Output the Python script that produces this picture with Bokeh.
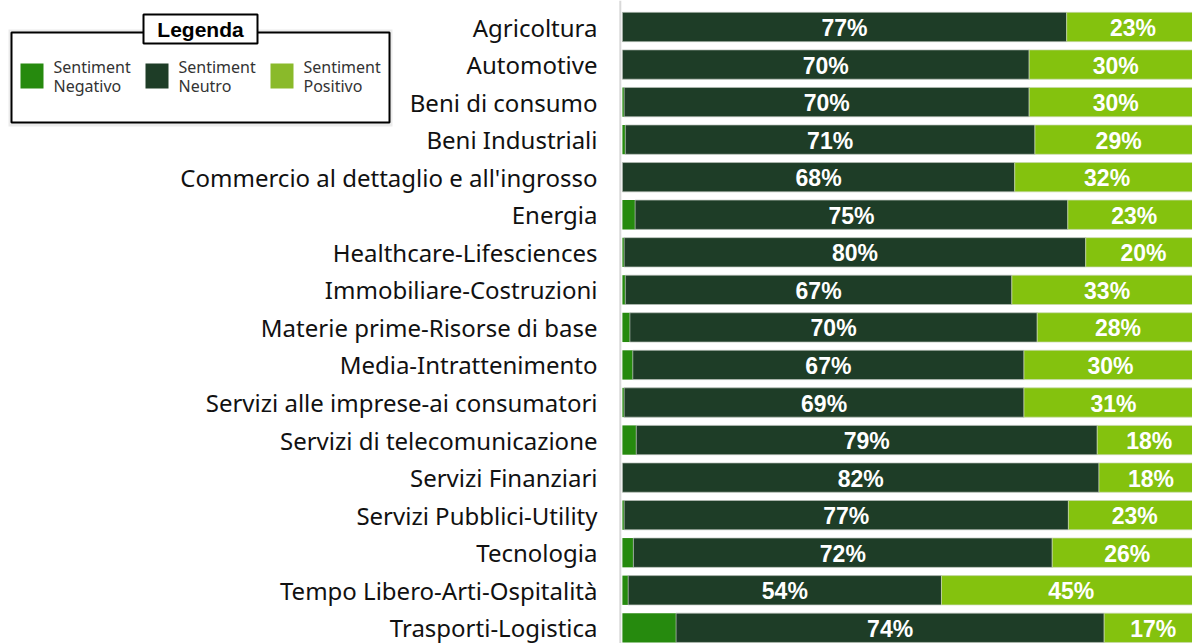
import numpy as np
from bokeh.plotting import figure
from bokeh.models import ColumnDataSource, Range1d, BoxAnnotation, Label, Span
from bokeh.core.properties import value
from bokeh.embed import file_html
from bokeh.resources import INLINE

# ---------------- data ----------------
categories = [
    "Agricoltura", "Automotive", "Beni di consumo", "Beni Industriali",
    "Commercio al dettaglio e all'ingrosso", "Energia", "Healthcare-Lifesciences",
    "Immobiliare-Costruzioni", "Materie prime-Risorse di base", "Media-Intrattenimento",
    "Servizi alle imprese-ai consumatori", "Servizi di telecomunicazione",
    "Servizi Finanziari", "Servizi Pubblici-Utility", "Tecnologia",
    "Tempo Libero-Arti-Ospitalità", "Trasporti-Logistica",
]
negativo = [0.0, 0.0, 0.3, 0.5, 0.0, 2.2, 0.3, 0.5, 1.3, 1.8, 0.3, 2.4, 0.0, 0.3, 1.9, 1.0, 9.3]
neutro = [77.0, 70.5, 70.2, 71.0, 68.0, 75.0, 80.0, 67.0, 70.6, 67.8, 69.3, 79.9, 82.6, 77.0, 72.6, 54.3, 74.2]
positivo = [23, 30, 30, 29, 32, 23, 20, 33, 28, 30, 31, 18, 18, 23, 26, 45, 17]
neutro_lbl = ["77%", "70%", "70%", "71%", "68%", "75%", "80%", "67%", "70%", "67%",
              "69%", "79%", "82%", "77%", "72%", "54%", "74%"]
positivo_lbl = ["23%", "30%", "30%", "29%", "32%", "23%", "20%", "33%", "28%", "30%",
                "31%", "18%", "18%", "23%", "26%", "45%", "17%"]
legend_labels = ["Sentiment\nNegativo", "Sentiment\nNeutro", "Sentiment\nPositivo"]

C_NEG = "#268a0e"
C_NEU = "#1e3d27"
C_POS = "#84c20e"

# ---------------- layout helpers (pixel -> data) ----------------
W, H = 1192, 643
X0, KX = 621.9, 5.77      # x pixel of 0 %, pixels per %
Y0, KY = 26.5, 37.55      # y pixel of first row, pixels per row

def dx(px):
    return (px - X0) / KX

def dy(py):
    return (py - Y0) / KY

idx = np.arange(len(categories))
neg = np.array(negativo, dtype=float)
neu = np.array(neutro, dtype=float)
pos = np.array(positivo, dtype=float)

src = ColumnDataSource(dict(
    y=idx, cat=categories,
    neg_l=np.zeros_like(neg), neg_r=neg,
    neu_l=neg, neu_r=neg + neu,
    pos_l=neg + neu, pos_r=neg + neu + pos,
    neu_x=neg + neu / 2, pos_x=neg + neu + pos / 2,
    neu_t=neutro_lbl, pos_t=positivo_lbl,
))

p = figure(width=W, height=H, output_backend="svg", toolbar_location=None,
           x_range=Range1d(dx(0), dx(W)), y_range=Range1d(dy(H), dy(0)),
           min_border_left=0, min_border_right=0, min_border_top=0, min_border_bottom=0)
p.outline_line_color = None
p.xgrid.visible = False
p.ygrid.visible = False
p.xaxis.visible = False
p.yaxis.visible = False

p.add_layout(Span(location=dx(619.8), dimension="height", line_color="#d9d9d9", line_width=2))

BH = 0.78
p.hbar(y="y", left="neg_l", right="neg_r", height=BH, source=src,
       fill_color=C_NEG, line_color=None)
p.hbar(y="y", left="neu_l", right="neu_r", height=BH, source=src,
       fill_color=C_NEU, line_color="#b8c0b8", line_width=0.7)
p.hbar(y="y", left="pos_l", right="pos_r", height=BH, source=src,
       fill_color=C_POS, line_color="#c8d8b0", line_width=0.7)

p.text(x="neu_x", y="y", text="neu_t", source=src, text_color="white",
       text_font=value("Liberation Sans"), text_font_style="bold",
       text_font_size="23px", text_align="center", text_baseline="middle", y_offset=1)
p.text(x="pos_x", y="y", text="pos_t", source=src, text_color="white",
       text_font=value("Liberation Sans"), text_font_style="bold",
       text_font_size="23px", text_align="center", text_baseline="middle", y_offset=1)

# category labels (left of the bars)
p.text(x=dx(597), y="y", text="cat", source=src, text_color="#111111",
       text_font=value("Noto Sans"), text_font_size="24px", text_line_height=1.0,
       text_align="right", text_baseline="middle")

# ---------------- custom legend ----------------
def box(l, t, r, b, **kw):
    p.add_layout(BoxAnnotation(left=dx(l), right=dx(r), top=dy(t), bottom=dy(b), **kw))

box(8, 29, 392, 126, fill_color="#b0b0b0", fill_alpha=0.25, line_color=None)
box(11, 32, 389, 122, fill_color="white", fill_alpha=1,
    line_color="black", line_alpha=1, line_width=2)
box(143, 14, 257, 43, fill_color="white", fill_alpha=1,
    line_color="black", line_alpha=1, line_width=2)
p.add_layout(Label(x=dx(200), y=dy(29), text="Legenda",
                   text_font="Liberation Sans", text_font_style="bold", text_font_size="21px",
                   text_align="center", text_baseline="middle", text_color="black"))

sw_x = [20, 145, 270]
cols = [C_NEG, C_NEU, "#8aba2a"]
for sx, col, lab in zip(sw_x, cols, legend_labels):
    box(sx, 63, sx + 23, 88, fill_color=col, fill_alpha=1, line_color=None)
    l1, l2 = lab.split("\n")
    for ty, t in ((66, l1), (85, l2)):
        p.add_layout(Label(x=dx(sx + 33), y=dy(ty), text=t,
                           text_font="Noto Sans", text_font_size="16px",
                           text_align="left", text_baseline="middle", text_color="#333333"))

open("out.html", "w").write(file_html(p, INLINE))
